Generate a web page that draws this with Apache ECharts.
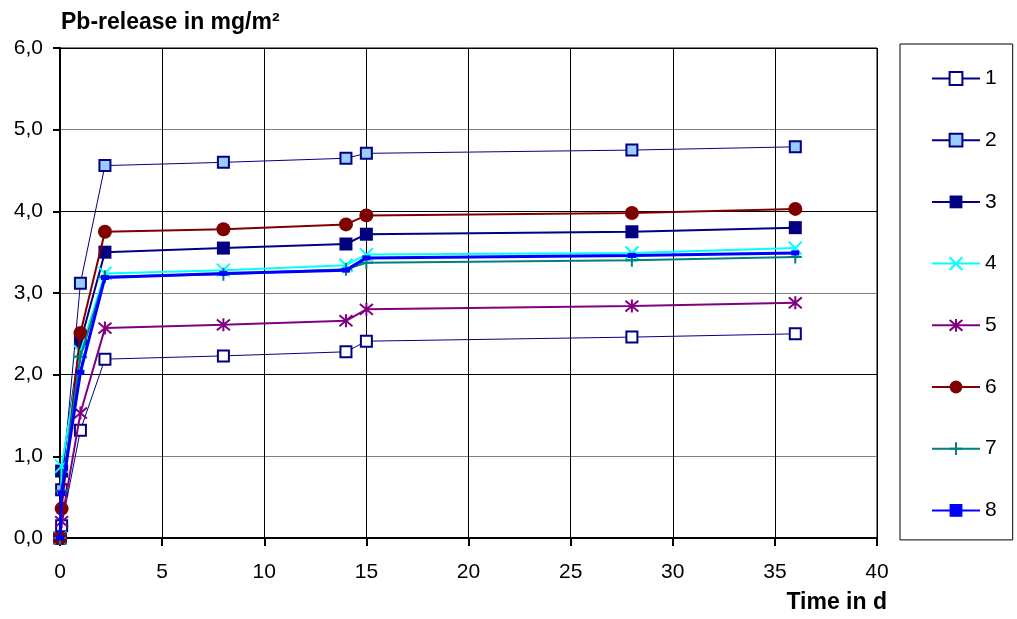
<!DOCTYPE html>
<html>
<head>
<meta charset="utf-8">
<script src="https://cdn.jsdelivr.net/npm/echarts@6/dist/echarts.min.js"></script>
<style>
  html, body { margin: 0; padding: 0; background: #ffffff; }
  #chart { width: 1017px; height: 619px; }
</style>
</head>
<body>
<div id="chart"></div>
<script>
// Sampling times in days
const days = [0, 0.08, 1, 2.2, 8, 14, 15, 28, 36];

// Pb release (mg/m²) per sample
const s1 = [0, 0.15, 1.32, 2.19, 2.23, 2.28, 2.41, 2.46, 2.50];
const s2 = [0, 0.59, 3.12, 4.56, 4.60, 4.65, 4.71, 4.75, 4.79];
const s3 = [0, 0.82, 2.40, 3.50, 3.55, 3.60, 3.72, 3.75, 3.80];
const s4 = [0, 0.88, 2.28, 3.24, 3.28, 3.34, 3.47, 3.49, 3.55];
const s5 = [0, 0.20, 1.53, 2.57, 2.61, 2.66, 2.80, 2.84, 2.88];
const s6 = [0, 0.36, 2.51, 3.75, 3.78, 3.84, 3.95, 3.98, 4.03];
const s7 = [0, 0.58, 2.22, 3.20, 3.23, 3.29, 3.37, 3.40, 3.44];
const s8 = [0, 0.55, 2.03, 3.19, 3.24, 3.28, 3.43, 3.46, 3.49];

const seriesNames = ['1', '2', '3', '4', '5', '6', '7', '8'];
const seriesValues = [s1, s2, s3, s4, s5, s6, s7, s8];

const FONT = '"Liberation Sans", Arial, sans-serif';

// Stroked marker outlines
const X_PATH = 'path://M0,0L10,10M10,0L0,10';
const STAR_PATH = 'path://M0,0L10,10M10,0L0,10M5,-1L5,11';
const PLUS_PATH = 'path://M5,0L5,10M0,5L10,5';

const styles = [
  { line: '#000080', lw: 1, symbol: 'rect', size: 11, fill: '#ffffff', stroke: '#000080', bw: 2 },
  { line: '#000080', lw: 1, symbol: 'rect', size: 11, fill: '#99ccff', stroke: '#000080', bw: 2 },
  { line: '#000080', lw: 2, symbol: 'rect', size: 13, fill: '#000080', stroke: '#000080', bw: 0 },
  { line: '#00ffff', lw: 2, symbol: X_PATH, size: 13, fill: '#00ffff', stroke: '#00ffff', bw: 2 },
  { line: '#800080', lw: 2, symbol: STAR_PATH, size: 13, fill: '#800080', stroke: '#800080', bw: 2 },
  { line: '#800000', lw: 2, symbol: 'circle', size: 14, fill: '#800000', stroke: '#800000', bw: 0 },
  { line: '#008080', lw: 2, symbol: PLUS_PATH, size: 13, fill: '#008080', stroke: '#008080', bw: 2 },
  { line: '#0000ff', lw: 3, symbol: 'rect', size: [8, 5], fill: '#0000ff', stroke: '#0000ff', bw: 0 }
];

const series = seriesNames.map((name, i) => {
  const st = styles[i];
  return {
    name: name,
    type: 'line',
    data: days.map((d, k) => [d, seriesValues[i][k]]),
    symbol: st.symbol,
    symbolSize: st.size,
    showAllSymbol: true,
    lineStyle: { color: st.line, width: st.lw },
    itemStyle: { color: st.fill, borderColor: st.stroke, borderWidth: st.bw },
    emphasis: { disabled: true },
    z: 2 + i
  };
});

const chart = echarts.init(document.getElementById('chart'), null, { renderer: 'canvas' });
chart.setOption({
  animation: false,
  backgroundColor: '#ffffff',
  textStyle: { fontFamily: FONT },
  grid: { left: 60, right: 140, top: 48, bottom: 81, show: true, borderColor: '#000', borderWidth: 1, backgroundColor: 'transparent' },
  legend: {
    orient: 'vertical',
    left: 900,
    top: 44,
    itemWidth: 48,
    itemHeight: 16,
    itemGap: 40.7,
    padding: [24, 16, 19, 31],
    borderColor: '#000',
    borderWidth: 1,
    textStyle: { fontFamily: FONT, fontSize: 21, color: '#000' },
    data: seriesNames
  },
  xAxis: {
    type: 'value',
    min: 0, max: 40, interval: 5,
    name: 'Time in d',
    nameLocation: 'end',
    nameGap: 10,
    nameTextStyle: { fontFamily: FONT, fontSize: 23, fontWeight: 'bold', color: '#000', align: 'right', verticalAlign: 'top', padding: [53, 0, 0, 0] },
    axisLine: { lineStyle: { color: '#000', width: 2 } },
    axisTick: { show: true, length: 8, lineStyle: { color: '#000', width: 2 } },
    axisLabel: { fontFamily: FONT, fontSize: 21, color: '#000', margin: 24 },
    splitLine: { show: true, lineStyle: { color: '#000', width: 1 } }
  },
  yAxis: {
    type: 'value',
    min: 0, max: 6, interval: 1,
    name: 'Pb-release in mg/m²',
    nameLocation: 'end',
    nameGap: 14,
    nameTextStyle: { fontFamily: FONT, fontSize: 23, fontWeight: 'bold', color: '#000', align: 'left', padding: [0, 0, 0, 1] },
    axisLine: { lineStyle: { color: '#000', width: 2 } },
    axisTick: { show: true, length: 7, lineStyle: { color: '#000', width: 2 } },
    axisLabel: {
      fontFamily: FONT, fontSize: 21, color: '#000', margin: 17,
      formatter: v => v.toFixed(1).replace('.', ',')
    },
    splitLine: { show: true, lineStyle: { color: ['#000000', '#808080'], width: 1 } }
  },
  series: series
});
</script>
</body>
</html>
